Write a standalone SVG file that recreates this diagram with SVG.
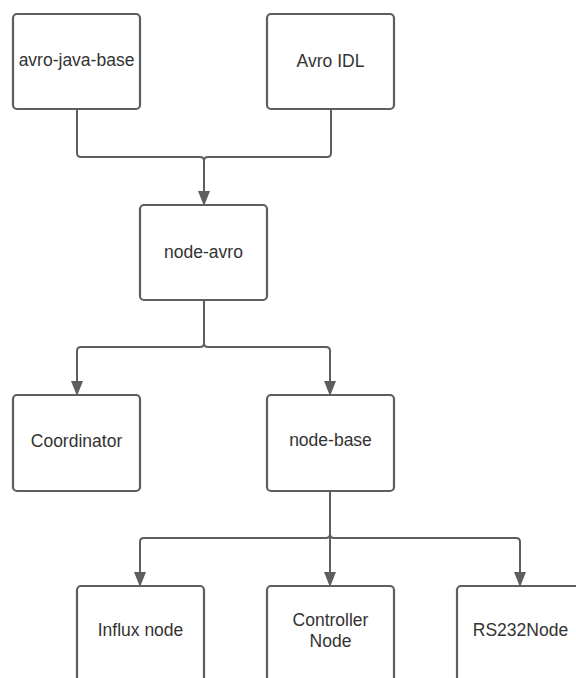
<svg xmlns="http://www.w3.org/2000/svg" width="576" height="678" viewBox="0 0 576 678">
<style>
.box{fill:#fff;stroke:#5e5e5e;stroke-width:2.2}
.lbl{font-family:"Liberation Sans",Arial,sans-serif;font-size:17.5px;fill:#333;text-anchor:middle}
.ln{fill:none;stroke:#5e5e5e;stroke-width:2}
</style>
<defs>
<marker id="ah" markerUnits="userSpaceOnUse" markerWidth="15" markerHeight="12" viewBox="0 0 15 12" refX="14" refY="6" orient="auto">
<path d="M0,0 L15,6 L0,12 Z" fill="#5e5e5e"/>
</marker>
</defs>
<rect width="576" height="678" fill="#fff"/>
<g id="connectors">
<path class="ln" d="M77,109 V153 Q77,157 81,157 H200 Q204,157 204,161 V205" marker-end="url(#ah)"/>
<path class="ln" d="M331,109 V153 Q331,157 327,157 H208 Q204,157 204,161"/>
<path class="ln" d="M204,300 V343 Q204,347 200,347 H81 Q77,347 77,351 V395" marker-end="url(#ah)"/>
<path class="ln" d="M204,343 Q204,347 208,347 H326 Q330,347 330,351 V395" marker-end="url(#ah)"/>
<path class="ln" d="M330,491 V586" marker-end="url(#ah)"/>
<path class="ln" d="M330,534 Q330,538 326,538 H144 Q140,538 140,542 V586" marker-end="url(#ah)"/>
<path class="ln" d="M330,534 Q330,538 334,538 H516 Q520,538 520,542 V586" marker-end="url(#ah)"/>
</g>
<g id="avro-java-base"><rect class="box" x="13" y="14" width="127" height="95" rx="4"/><text class="lbl" x="76.5" y="66">avro-java-base</text></g>
<g id="avro-idl"><rect class="box" x="267" y="14" width="127" height="95" rx="4"/><text class="lbl" x="330.5" y="67">Avro IDL</text></g>
<g id="node-avro"><rect class="box" x="140" y="205" width="127" height="95" rx="4"/><text class="lbl" x="203.5" y="258">node-avro</text></g>
<g id="coordinator"><rect class="box" x="13" y="395" width="127" height="96" rx="4"/><text class="lbl" x="76.5" y="447">Coordinator</text></g>
<g id="node-base"><rect class="box" x="267" y="395" width="127" height="96" rx="4"/><text class="lbl" x="330.5" y="446">node-base</text></g>
<g id="influx-node"><rect class="box" x="77" y="586" width="127" height="96" rx="4"/><text class="lbl" x="140.5" y="636">Influx node</text></g>
<g id="controller-node"><rect class="box" x="267" y="586" width="127" height="96" rx="4"/><text class="lbl" x="330.5" y="626">Controller</text><text class="lbl" x="330.5" y="647">Node</text></g>
<g id="rs232node"><rect class="box" x="457" y="586" width="127" height="96" rx="4"/><text class="lbl" x="520.5" y="636">RS232Node</text></g>
</svg>
